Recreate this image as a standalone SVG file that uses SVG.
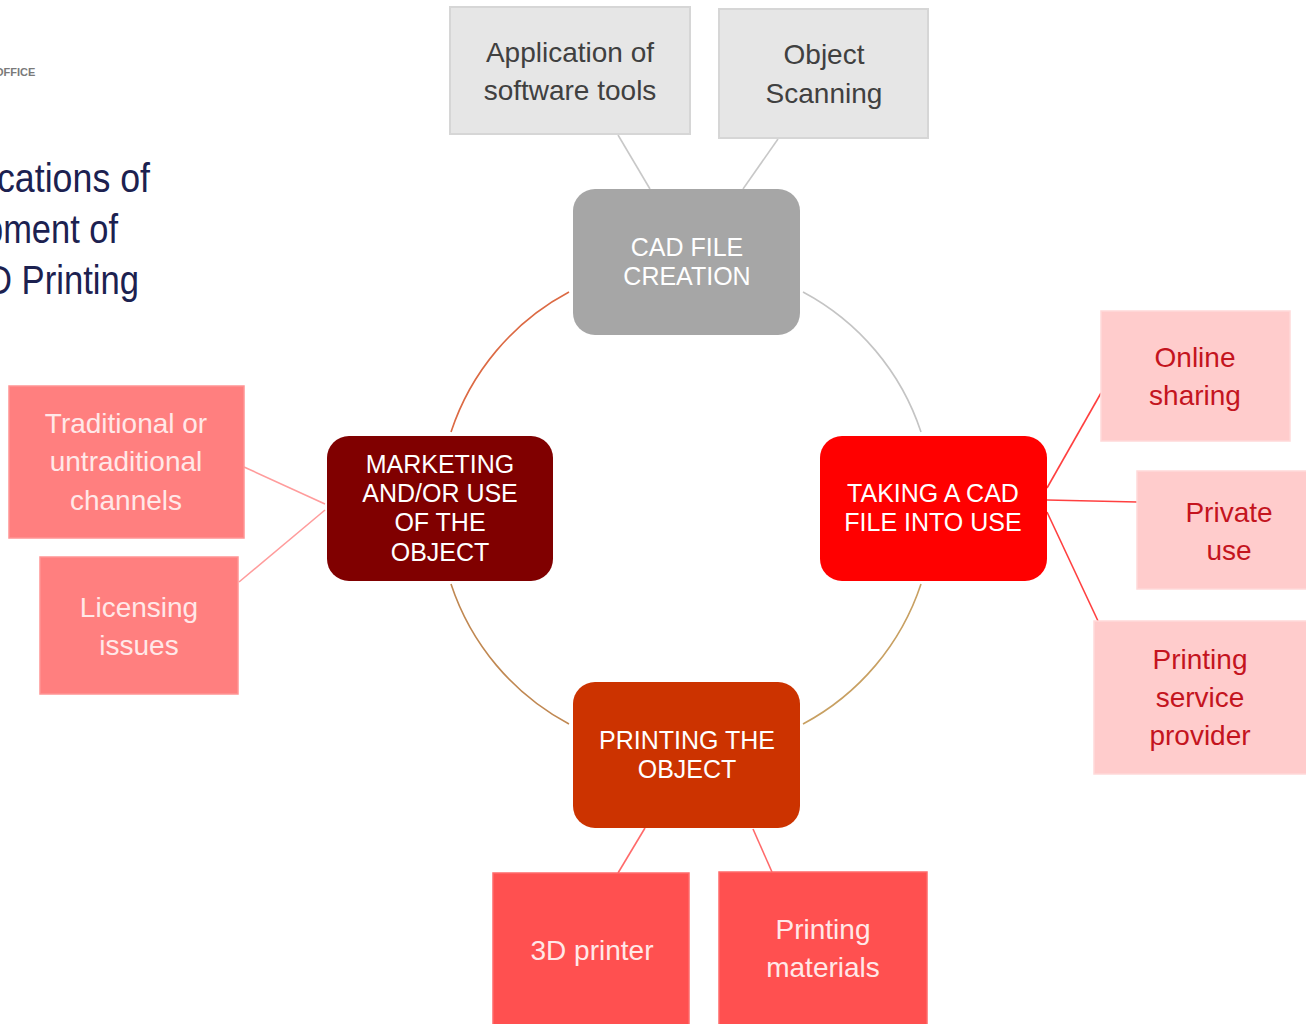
<svg xmlns="http://www.w3.org/2000/svg" width="1306" height="1024" viewBox="0 0 1306 1024">
  <style>
    text { font-family: "Liberation Sans", Arial, sans-serif; text-anchor: middle; }
    .leaf { font-size: 28px; }
    .hub { font-size: 25px; fill: #ffffff; }
    .dark { fill: #404040; }
    .crimson { fill: #c4141e; }
    .pale { fill: #ffe8e8; }
    .box-gray { fill: #e6e6e6; stroke: #d6d6d6; stroke-width: 2; }
    .box-rose { fill: #ffcccc; stroke: #ffd9d9; stroke-width: 1.5; }
    .box-salmon { fill: #ff7f7f; stroke: #ff9494; stroke-width: 1.5; }
    .box-coral { fill: #ff5050; stroke: #ff6a6a; stroke-width: 1.5; }
    .title { font-size: 40px; fill: #1c2150; text-anchor: start; }
    .link { fill: none; stroke-width: 1.6; }
  </style>

  <!-- header fragment, running off the left edge -->
  <text x="-5" y="76" style="font-size:11px;font-weight:bold;fill:#7a7a7a;text-anchor:start">OFFICE</text>
  <text class="title" x="-3" y="192" textLength="153" lengthAdjust="spacingAndGlyphs">cations of</text>
  <text class="title" x="-16" y="243" textLength="134" lengthAdjust="spacingAndGlyphs">pment of</text>
  <text class="title" x="-13" y="294" textLength="152" lengthAdjust="spacingAndGlyphs">D Printing</text>

  <!-- connectors -->
  <g id="connectors">
    <!-- ring between the four stages -->
    <path class="link" d="M803,292 A246,246 0 0 1 921,432" stroke="#c4c4c4"/>
    <path class="link" d="M921,584 A246,246 0 0 1 803,724" stroke="#c8a062"/>
    <path class="link" d="M569,724 A246,246 0 0 1 451,584" stroke="#c08852"/>
    <path class="link" d="M451,432 A246,246 0 0 1 569,292" stroke="#dc6a44"/>
    <!-- spokes -->
    <line class="link" x1="618" y1="135" x2="650" y2="189" stroke="#c8c8c8"/>
    <line class="link" x1="778" y1="139" x2="743" y2="189" stroke="#c8c8c8"/>
    <line class="link" x1="1047" y1="488" x2="1101" y2="393" stroke="#ff4040"/>
    <line class="link" x1="1047" y1="500" x2="1137" y2="502" stroke="#ff4040"/>
    <line class="link" x1="1047" y1="512" x2="1098" y2="621" stroke="#ff4040"/>
    <line class="link" x1="645" y1="828" x2="618" y2="873" stroke="#ff6a6a"/>
    <line class="link" x1="753" y1="829" x2="772" y2="872" stroke="#ff6a6a"/>
    <line class="link" x1="325" y1="504" x2="244" y2="467" stroke="#ff9c9c"/>
    <line class="link" x1="325" y1="510" x2="239" y2="582" stroke="#ff9c9c"/>
  </g>

  <!-- stage nodes -->
  <g id="cad-file-creation">
    <rect x="573" y="189" width="227" height="146" rx="22" fill="#a6a6a6"/>
    <text class="hub" x="687" y="256">CAD FILE</text>
    <text class="hub" x="687" y="285">CREATION</text>
  </g>
  <g id="taking-into-use">
    <rect x="820" y="436" width="227" height="145" rx="22" fill="#ff0000"/>
    <text class="hub" x="933" y="502">TAKING A CAD</text>
    <text class="hub" x="933" y="531">FILE INTO USE</text>
  </g>
  <g id="printing-the-object">
    <rect x="573" y="682" width="227" height="146" rx="22" fill="#cc3300"/>
    <text class="hub" x="687" y="749">PRINTING THE</text>
    <text class="hub" x="687" y="778">OBJECT</text>
  </g>
  <g id="marketing-use">
    <rect x="327" y="436" width="226" height="145" rx="22" fill="#800000"/>
    <text class="hub" x="440" y="473">MARKETING</text>
    <text class="hub" x="440" y="502">AND/OR USE</text>
    <text class="hub" x="440" y="531">OF THE</text>
    <text class="hub" x="440" y="561">OBJECT</text>
  </g>

  <!-- CAD creation inputs -->
  <g id="software-tools">
    <rect class="box-gray" x="450" y="7" width="240" height="127"/>
    <text class="leaf dark" x="570" y="62">Application of</text>
    <text class="leaf dark" x="570" y="100">software tools</text>
  </g>
  <g id="object-scanning">
    <rect class="box-gray" x="719" y="9" width="209" height="129"/>
    <text class="leaf dark" x="824" y="64">Object</text>
    <text class="leaf dark" x="824" y="103">Scanning</text>
  </g>

  <!-- ways of using a CAD file -->
  <g id="online-sharing">
    <rect class="box-rose" x="1101" y="311" width="189" height="130"/>
    <text class="leaf crimson" x="1195" y="367">Online</text>
    <text class="leaf crimson" x="1195" y="405">sharing</text>
  </g>
  <g id="private-use">
    <rect class="box-rose" x="1137" y="471" width="172" height="118"/>
    <text class="leaf crimson" x="1229" y="522">Private</text>
    <text class="leaf crimson" x="1229" y="560">use</text>
  </g>
  <g id="service-provider">
    <rect class="box-rose" x="1094" y="621" width="215" height="153"/>
    <text class="leaf crimson" x="1200" y="669">Printing</text>
    <text class="leaf crimson" x="1200" y="707">service</text>
    <text class="leaf crimson" x="1200" y="745">provider</text>
  </g>

  <!-- printing requirements -->
  <g id="printer">
    <rect class="box-coral" x="493" y="873" width="196" height="160"/>
    <text class="leaf pale" x="592" y="960">3D printer</text>
  </g>
  <g id="materials">
    <rect class="box-coral" x="719" y="872" width="208" height="160"/>
    <text class="leaf pale" x="823" y="939">Printing</text>
    <text class="leaf pale" x="823" y="977">materials</text>
  </g>

  <!-- marketing concerns -->
  <g id="channels">
    <rect class="box-salmon" x="9" y="386" width="235" height="152"/>
    <text class="leaf pale" x="126" y="433">Traditional or</text>
    <text class="leaf pale" x="126" y="471">untraditional</text>
    <text class="leaf pale" x="126" y="510">channels</text>
  </g>
  <g id="licensing">
    <rect class="box-salmon" x="40" y="557" width="198" height="137"/>
    <text class="leaf pale" x="139" y="617">Licensing</text>
    <text class="leaf pale" x="139" y="655">issues</text>
  </g>
</svg>
